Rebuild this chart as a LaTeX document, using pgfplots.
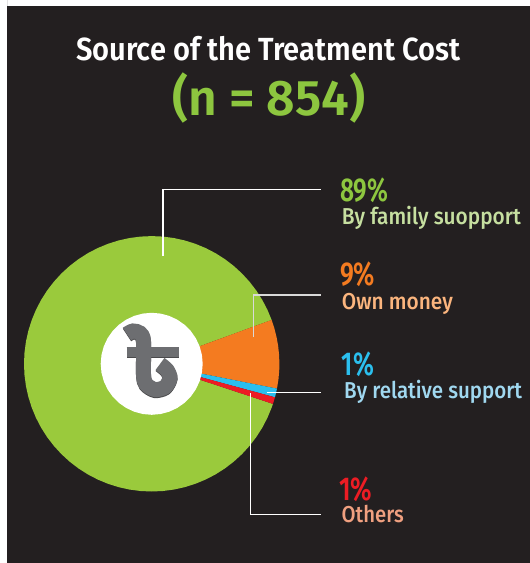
\documentclass[border=0pt]{standalone}
\usepackage{graphicx}
\usepackage{fontspec}
\usepackage{pgfplots}
\pgfplotsset{compat=1.18}
\usepgfplotslibrary{polar}
\setmainfont{Fira Sans}
\newfontfamily\med{Fira Sans Medium}
\newfontfamily\sembold{Fira Sans SemiBold}

\definecolor{panel}{HTML}{231F20}
\definecolor{pgreen}{HTML}{9ACA3C}
\definecolor{tgreen}{HTML}{8DC63F}
\definecolor{porange}{HTML}{F47B20}
\definecolor{pblue}{HTML}{2BBFEE}
\definecolor{pred}{HTML}{ED1C24}
\definecolor{lgreen}{HTML}{C6DFA0}
\definecolor{lorange}{HTML}{FBB57E}
\definecolor{lblue}{HTML}{A0D8F0}
\definecolor{lred}{HTML}{F0A080}
\definecolor{taka}{HTML}{6D6E71}
\definecolor{takashade}{HTML}{4A4A4C}

% text of a given width (pt), size (pt) at pixel position
\newcommand{\txt}[6]{\node[anchor=base west,inner sep=0pt,text=#5] at (axis cs:#1,#2)
  {\resizebox{#3pt}{\height}{\fontsize{#4pt}{#4pt}\selectfont\med #6}};}
\newcommand{\bigtxt}[6]{\node[anchor=base west,inner sep=0pt,text=#5] at (axis cs:#1,#2)
  {\resizebox{#3pt}{\height}{\fontsize{#4pt}{#4pt}\selectfont\sembold #6}};}

\pgfplotsset{pixels/.style={
  scale only axis,width=530pt,height=563pt,
  xmin=0,xmax=530,ymin=0,ymax=563,y dir=reverse,
  hide axis,clip=false}}

\begin{document}
\begin{tikzpicture}
\begin{axis}[pixels]
  \addplot[fill=white,draw=none] coordinates {(0,0) (530,0) (530,563) (0,563)} \closedcycle;
  \addplot[fill=panel,draw=none] coordinates {(7,6) (530,6) (530,563) (7,563)} \closedcycle;
\end{axis}

\begin{polaraxis}[
  at={(151.7pt,199.2pt)},anchor=center,
  scale only axis,width=255.4pt,height=255.4pt,
  xmin=0,xmax=360,ymin=0,ymax=127.7,
  hide axis,clip=false]
  % 89% family support
  \addplot[fill=pgreen,draw=none] coordinates {(0,0) (20.1,127.7) (25,127.7) (30,127.7) (35,127.7) (40,127.7) (45,127.7) (50,127.7) (55,127.7) (60,127.7) (65,127.7) (70,127.7) (75,127.7) (80,127.7) (85,127.7) (90,127.7) (95,127.7) (100,127.7) (105,127.7) (110,127.7) (115,127.7) (120,127.7) (125,127.7) (130,127.7) (135,127.7) (140,127.7) (145,127.7) (150,127.7) (155,127.7) (160,127.7) (165,127.7) (170,127.7) (175,127.7) (180,127.7) (185,127.7) (190,127.7) (195,127.7) (200,127.7) (205,127.7) (210,127.7) (215,127.7) (220,127.7) (225,127.7) (230,127.7) (235,127.7) (240,127.7) (245,127.7) (250,127.7) (255,127.7) (260,127.7) (265,127.7) (270,127.7) (275,127.7) (280,127.7) (285,127.7) (290,127.7) (295,127.7) (300,127.7) (305,127.7) (310,127.7) (315,127.7) (320,127.7) (325,127.7) (330,127.7) (335,127.7) (340,127.7) (341.7,127.7) (0,0)};
  % 9% own money
  \addplot[fill=porange,draw=none] coordinates {(0,0) (-11.2,127.7) (-7,127.7) (-3,127.7) (0,127.7) (4,127.7) (8,127.7) (12,127.7) (16,127.7) (20.1,127.7) (0,0)};
  % 1% relative support
  \addplot[fill=pblue,draw=none] coordinates {(0,0) (-15.2,127.7) (-13.2,127.7) (-11.2,127.7) (0,0)};
  % 1% others
  \addplot[fill=pred,draw=none] coordinates {(0,0) (-18.3,127.7) (-16.7,127.7) (-15.2,127.7) (0,0)};
  % centre disc
  \addplot[fill=white,draw=none] coordinates {(0,51) (10,51) (20,51) (30,51) (40,51) (50,51) (60,51) (70,51) (80,51) (90,51) (100,51) (110,51) (120,51) (130,51) (140,51) (150,51) (160,51) (170,51) (180,51) (190,51) (200,51) (210,51) (220,51) (230,51) (240,51) (250,51) (260,51) (270,51) (280,51) (290,51) (300,51) (310,51) (320,51) (330,51) (340,51) (350,51) (360,51)};
\end{polaraxis}

\begin{axis}[pixels]
  % leader lines
  \addplot[white,line width=1.2pt] coordinates {(163,256) (163,189.3) (321,189.3)};
  \addplot[white!85!black,line width=1.2pt] coordinates {(253.5,337) (253.5,295) (321,295)};
  \addplot[white,line width=1.2pt] coordinates {(266.7,392.3) (321,392.3)};
  \addplot[white,line width=1.2pt] coordinates {(250.3,393.3) (250.3,514.3) (321,514.3)};

  \bigtxt{76}{60}{384}{32}{white}{Source of the Treatment Cost}
  \bigtxt{172}{115}{193}{50}{tgreen}{(n = 854)}

  \bigtxt{340}{201}{48}{33}{tgreen}{89\%}
  \txt{341.7}{224.3}{179}{23}{lgreen}{By family suopport}
  \bigtxt{340}{285.7}{35}{33}{porange}{9\%}
  \txt{341.7}{309}{111}{23}{lorange}{Own money}
  \bigtxt{341.7}{375.7}{32}{33}{pblue}{1\%}
  \txt{344}{398.3}{178}{23}{lblue}{By relative support}
  \bigtxt{339}{500}{33}{33}{pred}{1\%}
  \txt{341.5}{522.7}{62}{23}{lred}{Others}

  % taka sign: shadow, then the glyph
  \addplot[takashade,line width=10pt] coordinates {(127,352.8) (179,352.8)};
  \addplot[takashade,line width=15pt,smooth] coordinates {(127,335) (133,332) (140,334) (143.5,342) (143.5,375) (146,385) (155,390.5) (165,388) (170,379) (167,371) (160,365)};
  \addplot[taka,line width=10pt] coordinates {(126.7,351.7) (179.3,351.7)};
  \addplot[taka,line width=15pt,smooth] coordinates {(127,334) (133,331) (140,333) (143.5,341) (143.5,374) (146,384) (155,389.5) (165,387) (170,378) (167,370) (160,364)};
\end{axis}
\end{tikzpicture}
\end{document}
